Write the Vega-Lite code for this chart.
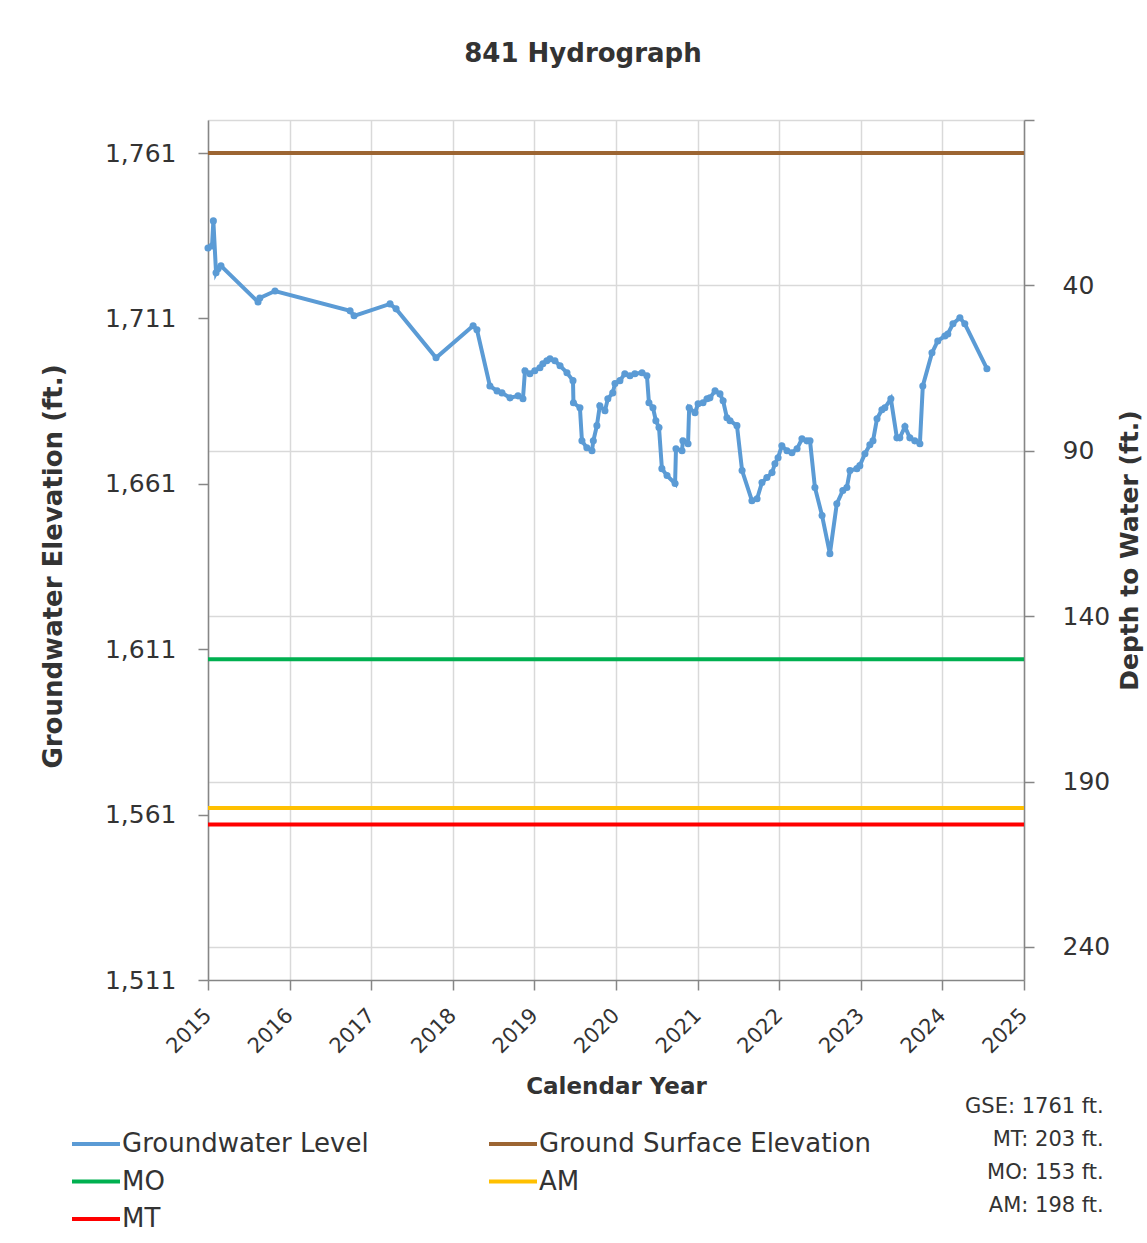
{
  "$schema": "https://vega.github.io/schema/vega-lite/v6.json",
  "width": 816,
  "height": 860,
  "autosize": {"type": "none"},
  "padding": {"left": 208, "top": 120, "right": 123, "bottom": 263},
  "background": "white",
  "config": {
    "font": "DejaVu Sans",
    "view": {"stroke": null},
    "axis": {
      "labelFont": "DejaVu Sans",
      "titleFont": "DejaVu Sans",
      "labelColor": "#333333",
      "titleColor": "#333333",
      "domainColor": "#868686",
      "tickColor": "#868686",
      "domainWidth": 1.5,
      "tickWidth": 1.5,
      "gridColor": "#d9d9d9",
      "gridWidth": 1.5
    }
  },
  "title": {
    "text": "841 Hydrograph",
    "font": "DejaVu Sans",
    "fontSize": 26,
    "fontWeight": "bold",
    "color": "#333333",
    "anchor": "middle",
    "frame": "group",
    "dx": -33,
    "offset": 52
  },
  "layer": [
    {
      "layer": [
        {
          "data": {
            "values": [
              {"date": "2015-01-01", "elev": 1732.3},
              {"date": "2015-01-19", "elev": 1732.9},
              {"date": "2015-01-25", "elev": 1740.5},
              {"date": "2015-02-06", "elev": 1724.8},
              {"date": "2015-02-15", "elev": 1726.0},
              {"date": "2015-02-28", "elev": 1726.9},
              {"date": "2015-08-13", "elev": 1716.0},
              {"date": "2015-08-21", "elev": 1717.2},
              {"date": "2015-10-28", "elev": 1719.3},
              {"date": "2016-09-28", "elev": 1713.3},
              {"date": "2016-10-16", "elev": 1711.8},
              {"date": "2017-03-26", "elev": 1715.4},
              {"date": "2017-04-22", "elev": 1713.9},
              {"date": "2017-10-18", "elev": 1699.1},
              {"date": "2018-04-02", "elev": 1708.8},
              {"date": "2018-04-19", "elev": 1707.6},
              {"date": "2018-06-16", "elev": 1690.6},
              {"date": "2018-07-18", "elev": 1689.1},
              {"date": "2018-08-09", "elev": 1688.5},
              {"date": "2018-09-14", "elev": 1687.0},
              {"date": "2018-10-20", "elev": 1687.6},
              {"date": "2018-11-11", "elev": 1686.7},
              {"date": "2018-11-20", "elev": 1695.2},
              {"date": "2018-12-12", "elev": 1694.3},
              {"date": "2019-01-03", "elev": 1695.2},
              {"date": "2019-01-26", "elev": 1696.1},
              {"date": "2019-02-08", "elev": 1697.3},
              {"date": "2019-02-26", "elev": 1698.2},
              {"date": "2019-03-12", "elev": 1698.8},
              {"date": "2019-04-03", "elev": 1698.2},
              {"date": "2019-04-26", "elev": 1696.7},
              {"date": "2019-05-27", "elev": 1694.6},
              {"date": "2019-06-23", "elev": 1692.2},
              {"date": "2019-06-25", "elev": 1685.5},
              {"date": "2019-07-24", "elev": 1684.0},
              {"date": "2019-08-02", "elev": 1674.0},
              {"date": "2019-08-24", "elev": 1671.9},
              {"date": "2019-09-16", "elev": 1671.0},
              {"date": "2019-09-22", "elev": 1674.0},
              {"date": "2019-10-08", "elev": 1678.6},
              {"date": "2019-10-21", "elev": 1684.6},
              {"date": "2019-11-13", "elev": 1683.1},
              {"date": "2019-11-26", "elev": 1686.7},
              {"date": "2019-12-18", "elev": 1688.5},
              {"date": "2019-12-28", "elev": 1691.3},
              {"date": "2020-01-19", "elev": 1692.2},
              {"date": "2020-02-10", "elev": 1694.3},
              {"date": "2020-03-04", "elev": 1693.7},
              {"date": "2020-03-26", "elev": 1694.3},
              {"date": "2020-04-27", "elev": 1694.6},
              {"date": "2020-05-19", "elev": 1693.7},
              {"date": "2020-05-28", "elev": 1685.5},
              {"date": "2020-06-15", "elev": 1684.0},
              {"date": "2020-06-28", "elev": 1680.1},
              {"date": "2020-07-12", "elev": 1678.0},
              {"date": "2020-07-25", "elev": 1665.6},
              {"date": "2020-08-17", "elev": 1663.5},
              {"date": "2020-09-22", "elev": 1661.1},
              {"date": "2020-09-26", "elev": 1671.6},
              {"date": "2020-10-23", "elev": 1671.0},
              {"date": "2020-10-27", "elev": 1674.0},
              {"date": "2020-11-19", "elev": 1673.1},
              {"date": "2020-11-24", "elev": 1684.0},
              {"date": "2020-12-20", "elev": 1682.5},
              {"date": "2021-01-03", "elev": 1685.2},
              {"date": "2021-01-25", "elev": 1685.5},
              {"date": "2021-02-12", "elev": 1686.7},
              {"date": "2021-02-25", "elev": 1687.0},
              {"date": "2021-03-20", "elev": 1689.1},
              {"date": "2021-04-11", "elev": 1688.2},
              {"date": "2021-04-25", "elev": 1686.1},
              {"date": "2021-05-12", "elev": 1681.0},
              {"date": "2021-05-26", "elev": 1680.1},
              {"date": "2021-06-26", "elev": 1678.6},
              {"date": "2021-07-19", "elev": 1665.0},
              {"date": "2021-09-01", "elev": 1655.9},
              {"date": "2021-09-24", "elev": 1656.5},
              {"date": "2021-10-16", "elev": 1661.4},
              {"date": "2021-11-07", "elev": 1662.9},
              {"date": "2021-11-30", "elev": 1664.4},
              {"date": "2021-12-13", "elev": 1667.1},
              {"date": "2021-12-27", "elev": 1668.9},
              {"date": "2022-01-13", "elev": 1672.5},
              {"date": "2022-02-05", "elev": 1671.0},
              {"date": "2022-02-27", "elev": 1670.4},
              {"date": "2022-03-22", "elev": 1671.6},
              {"date": "2022-04-13", "elev": 1674.6},
              {"date": "2022-05-05", "elev": 1674.0},
              {"date": "2022-05-19", "elev": 1674.0},
              {"date": "2022-06-10", "elev": 1659.9},
              {"date": "2022-07-12", "elev": 1651.4},
              {"date": "2022-08-16", "elev": 1639.9},
              {"date": "2022-09-16", "elev": 1655.0},
              {"date": "2022-10-13", "elev": 1659.0},
              {"date": "2022-10-31", "elev": 1659.9},
              {"date": "2022-11-14", "elev": 1665.0},
              {"date": "2022-12-15", "elev": 1665.6},
              {"date": "2022-12-28", "elev": 1666.5},
              {"date": "2023-01-20", "elev": 1670.1},
              {"date": "2023-02-11", "elev": 1672.8},
              {"date": "2023-02-25", "elev": 1674.0},
              {"date": "2023-03-15", "elev": 1680.7},
              {"date": "2023-04-06", "elev": 1683.4},
              {"date": "2023-04-19", "elev": 1684.0},
              {"date": "2023-05-16", "elev": 1686.7},
              {"date": "2023-06-12", "elev": 1674.9},
              {"date": "2023-06-25", "elev": 1674.9},
              {"date": "2023-07-18", "elev": 1678.3},
              {"date": "2023-08-09", "elev": 1674.9},
              {"date": "2023-08-31", "elev": 1674.0},
              {"date": "2023-09-23", "elev": 1673.1},
              {"date": "2023-10-06", "elev": 1690.6},
              {"date": "2023-11-16", "elev": 1700.6},
              {"date": "2023-12-12", "elev": 1704.2},
              {"date": "2024-01-13", "elev": 1705.7},
              {"date": "2024-01-26", "elev": 1706.3},
              {"date": "2024-02-18", "elev": 1709.4},
              {"date": "2024-03-20", "elev": 1711.2},
              {"date": "2024-04-11", "elev": 1709.4},
              {"date": "2024-07-19", "elev": 1695.8}
            ]
          },
          "mark": {
            "type": "line",
            "strokeWidth": 4,
            "point": {"filled": true, "size": 50}
          },
          "encoding": {
            "x": {
              "field": "date",
              "type": "temporal",
              "scale": {"type": "utc", "domain": ["2015-01-01", "2025-01-01"]},
              "axis": {
                "title": "Calendar Year",
                "format": "%Y",
                "tickCount": {"interval": "year", "step": 1},
                "grid": true,
                "tickSize": 10,
                "labelAngle": -45,
                "labelAlign": "right",
                "labelBaseline": "middle",
                "labelPadding": 22,
                "labelFontSize": 21,
                "labelFlush": false,
                "labelOverlap": false,
                "titleFontSize": 23,
                "titleFontWeight": "bold",
                "titlePadding": 19
              }
            },
            "y": {
              "field": "elev",
              "type": "quantitative",
              "scale": {"domain": [1511, 1771], "nice": false, "zero": false},
              "axis": {
                "orient": "left",
                "title": "Groundwater Elevation (ft.)",
                "values": [1511, 1561, 1611, 1661, 1711, 1761],
                "format": ",d",
                "grid": false,
                "tickSize": 10,
                "labelPadding": 22,
                "labelFontSize": 25,
                "titleFontSize": 26,
                "titleFontWeight": "bold",
                "titlePadding": 38,
                "titleY": 446
              }
            },
            "color": {
              "datum": "Groundwater Level",
              "type": "nominal",
              "scale": {
                "domain": ["Groundwater Level", "MO", "MT", "Ground Surface Elevation", "AM"],
                "range": ["#5B9BD5", "#00B050", "#FF0000", "#9C6532", "#FFC000"]
              },
              "legend": {
                "title": null,
                "orient": "none",
                "legendX": -126,
                "legendY": 1010,
                "columns": 2,
                "columnPadding": 112,
                "rowPadding": 10.5,
                "symbolType": "M-2,0H2",
                "symbolSize": 576,
                "symbolStrokeWidth": 4,
                "labelFontSize": 26,
                "labelColor": "#333333",
                "labelLimit": 600,
                "labelOffset": 12
              }
            }
          }
        },
        {
          "data": {"values": [{"note": "notes"}]},
          "mark": {
            "type": "text",
            "align": "right",
            "baseline": "top",
            "fontSize": 21,
            "lineHeight": 33,
            "color": "#333333",
            "text": ["GSE: 1761 ft.", "MT:  203 ft.", "MO: 153 ft.", "AM:  198 ft."]
          },
          "encoding": {
            "x": {"datum": {"year": 2025, "month": 12, "date": 24, "utc": true}, "type": "temporal"},
            "y": {"datum": 1476, "type": "quantitative"}
          }
        }
      ]
    },
    {
      "data": {
        "values": [
          {"series": "Ground Surface Elevation", "depth": 0},
          {"series": "MO", "depth": 153},
          {"series": "AM", "depth": 198},
          {"series": "MT", "depth": 203}
        ]
      },
      "mark": {"type": "rule", "strokeWidth": 4},
      "encoding": {
        "y": {
          "field": "depth",
          "type": "quantitative",
          "scale": {"domain": [-10, 250], "reverse": true, "nice": false, "zero": false},
          "axis": {
            "orient": "right",
            "title": "Depth to Water (ft.)",
            "values": [-10, 40, 90, 140, 190, 240],
            "labelExpr": "datum.value < 0 ? '' : datum.label",
            "grid": true,
            "tickSize": 10,
            "labelPadding": 28,
            "labelFontSize": 25,
            "titleFontSize": 25,
            "titleFontWeight": "bold",
            "titleAngle": 270,
            "titleBaseline": "top",
            "titlePadding": 8
          }
        },
        "color": {
          "field": "series",
          "type": "nominal",
          "scale": {
            "domain": ["Groundwater Level", "MO", "MT", "Ground Surface Elevation", "AM"],
            "range": ["#5B9BD5", "#00B050", "#FF0000", "#9C6532", "#FFC000"]
          },
          "legend": {
            "title": null,
            "orient": "none",
            "legendX": -126,
            "legendY": 1010,
            "columns": 2,
            "columnPadding": 112,
            "rowPadding": 10.5,
            "symbolType": "M-2,0H2",
            "symbolSize": 576,
            "symbolStrokeWidth": 4,
            "labelFontSize": 26,
            "labelColor": "#333333",
            "labelLimit": 600,
            "labelOffset": 12
          }
        }
      }
    }
  ],
  "resolve": {"scale": {"y": "independent"}}
}
